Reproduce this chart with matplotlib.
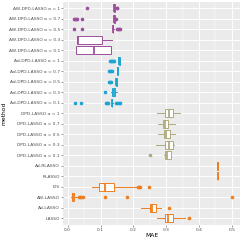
import matplotlib
matplotlib.use("Agg")
import matplotlib.pyplot as plt

# methods listed bottom -> top
methods = ["LASSO", "Ad-LASSO", "AW-LASSO", "LTS", "RLASSO", "Ad-RLASSO",
           "DPD-LASSO α = 0.1", "DPD-LASSO α = 0.3", "DPD-LASSO α = 0.5",
           "DPD-LASSO α = 0.7", "DPD-LASSO α = 1",
           "Ad-DPD-LASSO α = 0.1", "Ad-DPD-LASSO α = 0.3", "Ad-DPD-LASSO α = 0.5",
           "Ad-DPD-LASSO α = 0.7", "Ad-DPD-LASSO α = 1",
           "AW-DPD-LASSO α = 0.1", "AW-DPD-LASSO α = 0.3", "AW-DPD-LASSO α = 0.5",
           "AW-DPD-LASSO α = 0.7", "AW-DPD-LASSO α = 1"]
groups = ["base"] * 6 + ["dpd"] * 5 + ["ad"] * 5 + ["aw"] * 5

q1 = [0.295, 0.250, 0.012, 0.096, 0.457, 0.455,
      0.295, 0.295, 0.294, 0.289, 0.295,
      0.134, 0.134, 0.147, 0.151, 0.155,
      0.024, 0.028, 0.137, 0.141, 0.141]
med = [0.307, 0.258, 0.015, 0.113, 0.457, 0.457,
       0.303, 0.308, 0.300, 0.295, 0.308,
       0.135, 0.140, 0.148, 0.152, 0.156,
       0.079, 0.030, 0.138, 0.142, 0.142]
q3 = [0.321, 0.270, 0.020, 0.141, 0.457, 0.459,
      0.314, 0.322, 0.313, 0.307, 0.322,
      0.136, 0.145, 0.149, 0.153, 0.158,
      0.133, 0.104, 0.139, 0.143, 0.143]
whislo = [0.273, 0.223, 0.011, 0.073, 0.457, 0.455,
          0.292, 0.270, 0.274, 0.274, 0.272,
          0.133, 0.131, 0.146, 0.150, 0.154,
          0.024, 0.028, 0.136, 0.140, 0.140]
whishi = [0.356, 0.285, 0.034, 0.211, 0.457, 0.459,
          0.316, 0.325, 0.328, 0.328, 0.343,
          0.137, 0.150, 0.150, 0.154, 0.159,
          0.133, 0.136, 0.140, 0.144, 0.144]
fliers = [[0.368], [0.310],
          [0.036, 0.039, 0.042, 0.046, 0.115, 0.180, 0.499],
          [0.215, 0.217, 0.219, 0.247], [], [],
          [0.251], [], [], [], [],
          [0.021, 0.042, 0.117, 0.120, 0.123, 0.147, 0.151, 0.155, 0.158],
          [0.115],
          [0.125, 0.128, 0.131],
          [0.127, 0.130, 0.133, 0.135],
          [0.130, 0.133, 0.136, 0.139, 0.142],
          [], [],
          [0.019, 0.043, 0.151, 0.154, 0.157, 0.159],
          [0.018, 0.021, 0.024, 0.027, 0.043, 0.145, 0.147],
          [0.058, 0.149, 0.151]]

colors = {"base": "#F07E1E", "dpd": "#AFAA7E", "ad": "#1CA5D3", "aw": "#9E4F9C"}

stats = []
for i, m in enumerate(methods):
    stats.append(dict(label=m, q1=q1[i], med=med[i], q3=q3[i],
                      whislo=whislo[i], whishi=whishi[i], fliers=fliers[i]))

fig = plt.figure(figsize=(2.42, 2.42), dpi=100)
ax = fig.add_axes([0.262, 0.072, 0.730, 0.92])
ax.set_facecolor("#EBEBEB")
for x in [0.05, 0.15, 0.25, 0.35, 0.45]:
    ax.axvline(x, color="white", lw=0.35, zorder=0)
for x in [0.0, 0.1, 0.2, 0.3, 0.4, 0.5]:
    ax.axvline(x, color="white", lw=0.7, zorder=0)
for y in range(1, len(methods) + 1):
    ax.axhline(y, color="white", lw=0.7, zorder=0)

for i, s in enumerate(stats):
    c = colors[groups[i]]
    ax.bxp([s], positions=[i + 1], vert=False, widths=0.72, patch_artist=True,
           showcaps=False,
           boxprops=dict(facecolor="white", edgecolor=c, lw=0.7),
           whiskerprops=dict(color=c, lw=0.7),
           medianprops=dict(color=c, lw=1.3),
           flierprops=dict(marker="o", markerfacecolor=c, markeredgecolor=c,
                           markersize=1.6, linestyle="none"))

ax.set_xlim(-0.013, 0.525)
ax.set_ylim(0.4, len(methods) + 0.6)
ax.set_xticks([0.0, 0.1, 0.2, 0.3, 0.4, 0.5])
ax.set_xticklabels(["0.0", "0.1", "0.2", "0.3", "0.4", "0.5"])
ax.set_yticks(range(1, len(methods) + 1))
ax.set_yticklabels(methods)
ax.tick_params(labelsize=3.15, colors="#4D4D4D", length=1.5, width=0.4, pad=1)
for sp in ax.spines.values():
    sp.set_visible(False)
ax.set_xlabel("MAE", fontsize=4.3, labelpad=1)
ax.set_ylabel("method", fontsize=4.3)
ax.yaxis.set_label_coords(-0.322, 0.5)

fig.savefig("out.png", dpi=100)
